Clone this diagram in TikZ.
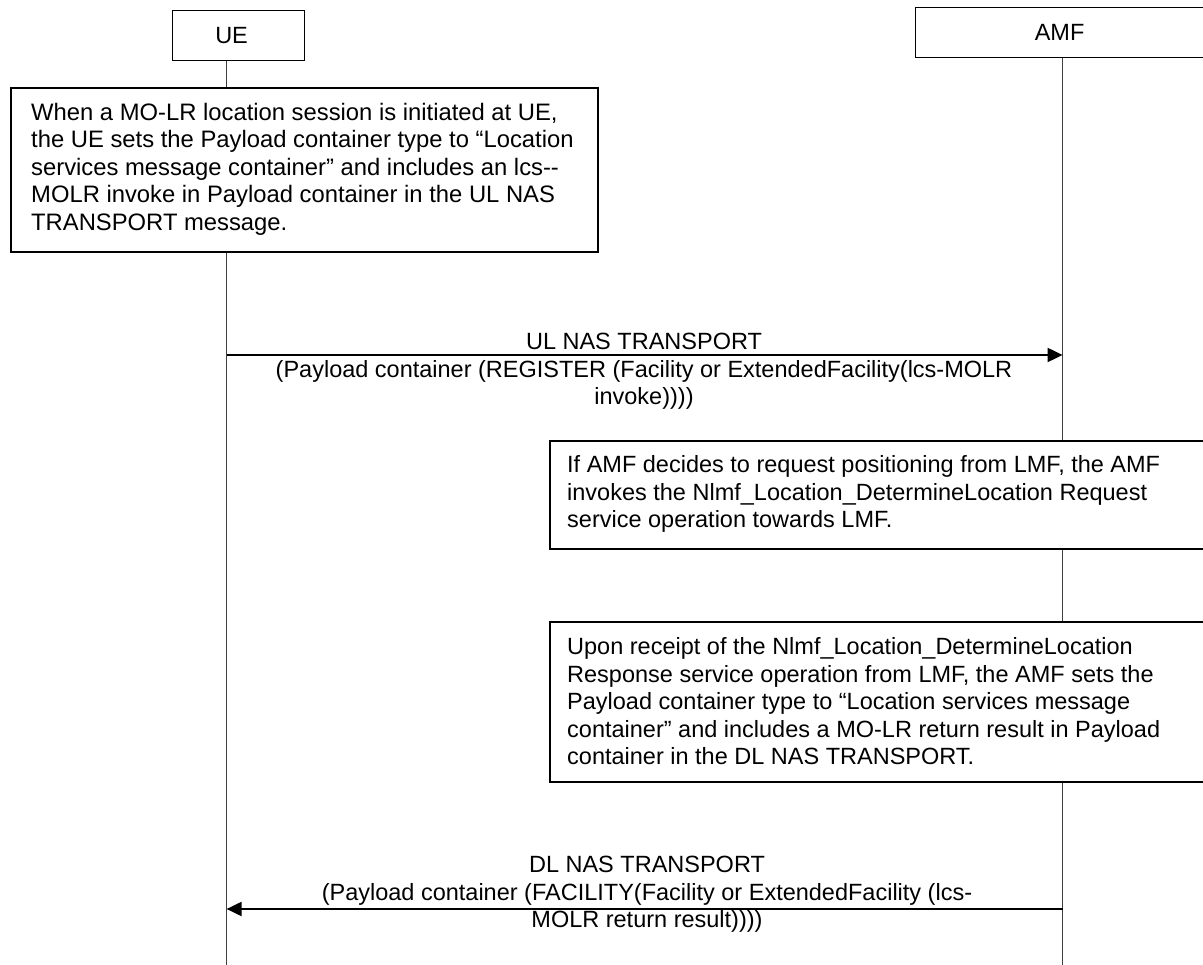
\documentclass[tikz,border=0pt]{standalone}
\usepackage{fontspec}
\setmainfont{Liberation Sans}
\usetikzlibrary{arrows.meta,calc}
\begin{document}
\begin{tikzpicture}[x=1pt,y=-1pt,
  every node/.style={font=\fontsize{23.5}{27.5}\selectfont},
  actor/.style={draw, line width=1.2pt, fill=white, minimum height=50pt, inner sep=0pt, anchor=north west},
  lifeline/.style={line width=1pt, draw=black!75},
  notebox/.style={draw, line width=1.8pt, fill=white, inner sep=0pt, anchor=north west},
  notetext/.style={align=left, inner sep=0pt, anchor=north west},
  msglabel/.style={align=center, inner sep=0pt, anchor=north},
  msg/.style={line width=2pt, -{Triangle[length=15pt,width=14pt]}}
]
\useasboundingbox (0,0) rectangle (1203,965);
\clip (0,0) rectangle (1203,965);
\fill[white] (0,0) rectangle (1203,965);

% actors
\node[actor, minimum width=132pt] (UE) at (172,10) {\kern-14pt UE};
\node[actor, minimum width=294pt] (AMF) at (915,7) {\kern-6pt AMF};

% lifelines
\coordinate (bottom) at (0,970);
\coordinate (uetop) at ([xshift=-12pt]UE.south);
\draw[lifeline] (uetop) -- (uetop |- bottom);
\draw[lifeline] (AMF.south) -- (AMF.south |- bottom);

% note 1
\node[notebox, minimum width=587pt, minimum height=164pt] (n1) at (10,87) {};
\node[notetext, font=\fontsize{23.8}{27.5}\selectfont] (t1) at ([shift={(21,16)}]n1.north west)
  {When a MO-LR location session is initiated at UE,\\
   the UE sets the Payload container type to “Location\\
   services message container” and includes an lcs-{}-\\
   MOLR invoke in Payload container in the UL NAS\\
   TRANSPORT message.};

% message 1
\coordinate (m1) at (0,355);
\draw[msg] (uetop |- m1) -- (AMF.south |- m1);
\node[msglabel] (l1) at (644,333)
  {UL NAS TRANSPORT\\
   (Payload container (REGISTER (Facility or ExtendedFacility(lcs-MOLR\\
   invoke))))};

% note 2
\node[notebox, minimum width=680pt, minimum height=108pt] (n2) at (549,440) {};
\node[notetext] (t2) at ([shift={(18,15.5)}]n2.north west)
  {If AMF decides to request positioning from LMF, the AMF\\
   invokes the Nlmf\_Location\_DetermineLocation Request\\
   service operation towards LMF.};

% note 3
\node[notebox, minimum width=680pt, minimum height=160pt] (n3) at (549,621) {};
\node[notetext] (t3) at ([shift={(18,16.5)}]n3.north west)
  {Upon receipt of the Nlmf\_Location\_DetermineLocation\\
   Response service operation from LMF, the AMF sets the\\
   Payload container type to “Location services message\\
   container” and includes a MO-LR return result in Payload\\
   container in the DL NAS TRANSPORT.};

% message 2
\coordinate (m2) at (0,909);
\draw[msg] (AMF.south |- m2) -- (uetop |- m2);
\node[msglabel] (l2) at (647,856)
  {DL NAS TRANSPORT\\
   (Payload container (FACILITY(Facility or ExtendedFacility (lcs-\\
   MOLR return result))))};
\end{tikzpicture}
\end{document}
